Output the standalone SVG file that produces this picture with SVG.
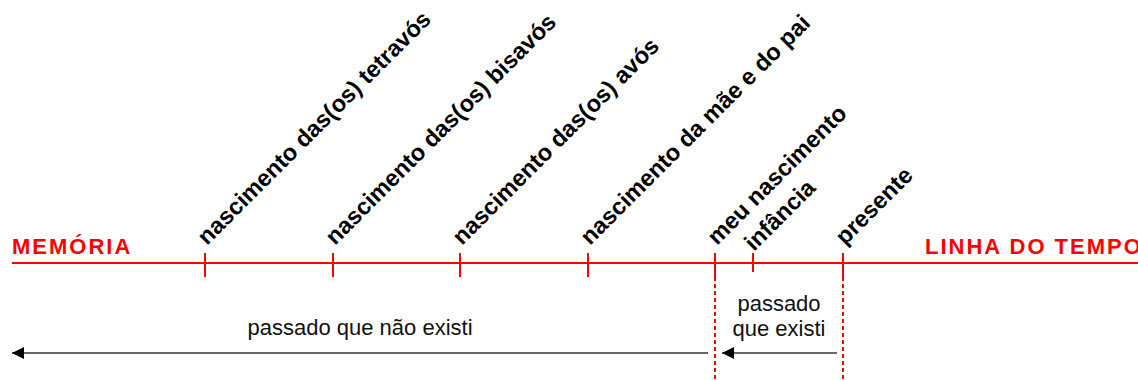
<svg xmlns="http://www.w3.org/2000/svg" width="1138" height="380" viewBox="0 0 1138 380">
<style>
.axis{stroke:#ff0000;stroke-width:2;fill:none}
.tick{stroke:#ff0000;stroke-width:2}
.dash{stroke:#ff0000;stroke-width:2;stroke-dasharray:4 3}
.lbl{font-family:"Liberation Sans",Arial,sans-serif;font-weight:bold;font-size:23.5px;fill:#000}
.title{font-family:"Liberation Sans",Arial,sans-serif;font-weight:bold;font-size:22px;letter-spacing:2px;fill:#ff0000}
.note{font-family:"Liberation Sans",Arial,sans-serif;font-size:22px;fill:#111}
.arr{stroke:#333;stroke-width:1.5;fill:none}
</style>
<defs>
<marker id="ah" markerWidth="12" markerHeight="12" refX="12" refY="6" orient="auto" markerUnits="userSpaceOnUse">
<path d="M0,0 L12,6 L0,12 Z" fill="#000"/>
</marker>
</defs>
<g id="timeline">
<line class="axis" x1="12" y1="263" x2="1138" y2="263"/>
<text class="title" x="12" y="254">MEMÓRIA</text>
<text class="title" x="925" y="254">LINHA DO TEMPO</text>
</g>
<g id="tetravos">
<line class="tick" x1="205" y1="253" x2="205" y2="277"/>
<text class="lbl" transform="translate(207,246) rotate(-45)">nascimento das(os) tetravós</text>
</g>
<g id="bisavos">
<line class="tick" x1="333" y1="253" x2="333" y2="277"/>
<text class="lbl" transform="translate(335,246) rotate(-45)">nascimento das(os) bisavós</text>
</g>
<g id="avos">
<line class="tick" x1="460" y1="253" x2="460" y2="277"/>
<text class="lbl" transform="translate(462,246) rotate(-45)">nascimento das(os) avós</text>
</g>
<g id="pais">
<line class="tick" x1="588" y1="253" x2="588" y2="277"/>
<text class="lbl" transform="translate(590,246) rotate(-45)">nascimento da mãe e do pai</text>
</g>
<g id="meu-nascimento">
<line class="tick" x1="715" y1="253" x2="715" y2="277"/>
<line class="dash" x1="715" y1="277" x2="715" y2="380"/>
<text class="lbl" transform="translate(717,246) rotate(-45)">meu nascimento</text>
</g>
<g id="infancia">
<line class="tick" x1="753" y1="253" x2="753" y2="272"/>
<text class="lbl" transform="translate(754,252) rotate(-45)">infância</text>
</g>
<g id="presente">
<line class="tick" x1="843" y1="253" x2="843" y2="277"/>
<line class="dash" x1="843" y1="277" x2="843" y2="380"/>
<text class="lbl" transform="translate(845,246) rotate(-45)">presente</text>
</g>
<g id="connectors">
<line class="arr" x1="708" y1="353" x2="12" y2="353" marker-end="url(#ah)"/>
<line class="arr" x1="837" y1="353" x2="722" y2="353" marker-end="url(#ah)"/>
</g>
<g id="notes">
<text class="note" x="360" y="335" text-anchor="middle">passado que não existi</text>
<text class="note" x="779" y="311" text-anchor="middle">passado</text>
<text class="note" x="779" y="336" text-anchor="middle">que existi</text>
</g>
</svg>
